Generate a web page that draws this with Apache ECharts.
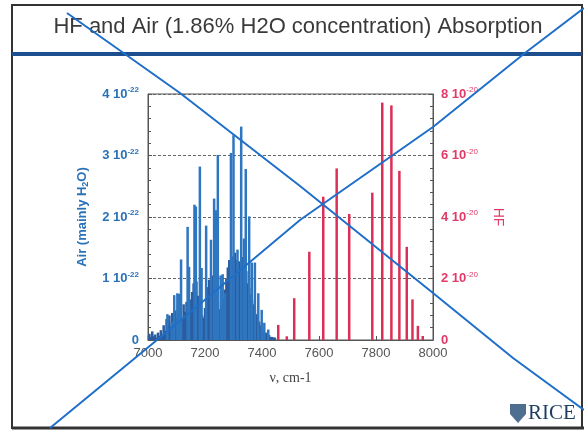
<!DOCTYPE html>
<html>
<head>
<meta charset="utf-8">
<script src="https://cdn.jsdelivr.net/npm/echarts@6/dist/echarts.min.js"></script>
<style>
  html, body { margin: 0; padding: 0; background: #fff; }
  #chart { width: 584px; height: 431px; }
</style>
</head>
<body>
<div id="chart"></div>
<script>
// --- 数据---
const titleText = 'HF and Air (1.86% H2O concentration) Absorption';
const xTicks = [7000, 7200, 7400, 7600, 7800, 8000];
const airExp = '-22';
const hfExp = '-20';

// 空气（主要为水汽）强吸收线，单位 1e-22
const airStrongWn = [7068, 7083, 7092, 7103, 7108, 7116, 7139, 7144, 7163, 7168, 7182, 7188, 7204, 7221, 7232, 7239, 7245, 7255, 7262, 7270, 7291, 7300, 7314, 7327, 7337, 7343, 7355, 7364, 7375, 7387, 7399, 7408, 7422];
const airStrongAbs = [0.42, 0.30, 0.73, 0.76, 0.75, 1.31, 1.84, 1.19, 2.20, 2.17, 2.82, 1.17, 1.86, 1.63, 2.30, 2.11, 3.01, 1.05, 1.07, 0.76, 3.04, 3.33, 1.47, 3.47, 1.65, 2.78, 2.01, 1.26, 1.26, 0.76, 0.49, 0.28, 0.17];

// 空气弱吸收线（密集背景）
const airWeakWn = [7000, 7005, 7010, 7015, 7020, 7025, 7030, 7035, 7040, 7045,
  7050, 7055, 7060, 7065, 7070, 7075, 7080, 7085, 7090, 7095,
  7100, 7105, 7110, 7115, 7120, 7125, 7130, 7135, 7140, 7145,
  7150, 7155, 7160, 7165, 7170, 7175, 7180, 7185, 7190, 7195,
  7200, 7205, 7210, 7215, 7220, 7225, 7230, 7235, 7240, 7245,
  7250, 7255, 7260, 7265, 7270, 7275, 7280, 7285, 7290, 7295,
  7300, 7305, 7310, 7315, 7320, 7325, 7330, 7335, 7340, 7345,
  7350, 7355, 7360, 7365, 7370, 7375, 7380, 7385, 7390, 7395,
  7400, 7405, 7410, 7415, 7420, 7425, 7430, 7435, 7440, 7445];
const airWeakAbs = [0.06, 0.10, 0.05, 0.14, 0.06, 0.09, 0.04, 0.12, 0.07, 0.16,
  0.10, 0.24, 0.15, 0.34, 0.26, 0.40, 0.22, 0.44, 0.32, 0.48,
  0.36, 0.55, 0.42, 0.50, 0.33, 0.58, 0.46, 0.62, 0.50, 0.56,
  0.66, 0.78, 0.92, 0.85, 0.95, 0.72, 0.58, 0.48, 0.40, 0.36,
  0.52, 0.70, 0.86, 0.98, 0.90, 1.05, 0.92, 0.80, 0.74, 0.62,
  0.50, 0.42, 0.55, 0.68, 0.82, 1.00, 1.18, 1.30, 1.22, 1.36,
  1.25, 1.42, 1.30, 1.16, 1.28, 1.20, 1.35, 1.05, 0.98, 1.12,
  0.92, 0.85, 0.74, 0.66, 0.58, 0.50, 0.42, 0.36, 0.30, 0.24,
  0.18, 0.14, 0.10, 0.12, 0.07, 0.08, 0.05, 0.05, 0.04, 0.04];

// HF 吸收线，单位 1e-20
const hfWn = [7457, 7487, 7513, 7566, 7615, 7662, 7706, 7787, 7822, 7854, 7882, 7908, 7928, 7947, 7964];
const hfAbs = [0.49, 0.12, 1.36, 2.87, 4.66, 5.58, 4.10, 4.79, 7.72, 7.63, 5.50, 3.03, 1.32, 0.46, 0.13];

const BLUE = '#2a72b8', PINK = '#e23a68', GRAY = '#555';

const zip = (a, b) => a.map((v, i) => [v, b[i]]);
const expLabel = exp => v => v === 0 ? '{b|0}' : '{b|' + v + ' 10}{s|' + exp + '}';

const chart = echarts.init(document.getElementById('chart'));

// 幻灯片边框与划线
const slide = [
  { type: 'rect', shape: { x: 12, y: 5, width: 570, height: 423 }, style: { fill: 'none', stroke: '#333', lineWidth: 2 }, z: 10 },
  { type: 'line', shape: { x1: 12, y1: 54, x2: 582, y2: 54 }, style: { stroke: '#1d4f8f', lineWidth: 4 }, z: 10 },
  { type: 'line', shape: { x1: 12, y1: 428, x2: 584, y2: 428 }, style: { stroke: '#333', lineWidth: 3 }, z: 10 },
  { type: 'text', x: 298, y: 27, style: { text: titleText, font: '22px "Liberation Sans", Arial, sans-serif', fill: '#3a3a3a', textAlign: 'center', textVerticalAlign: 'middle' }, z: 11 },
  { type: 'polyline', shape: { points: [[67, 13], [180, 93], [300, 186], [433, 293], [513, 358], [584, 410]] }, style: { stroke: '#1f6fc9', lineWidth: 2, fill: 'none' }, z: 20 },
  { type: 'polyline', shape: { points: [[50, 428], [157, 340], [300, 220], [433, 127], [525, 53], [584, 8]] }, style: { stroke: '#1f6fc9', lineWidth: 2, fill: 'none' }, z: 20 },
  { type: 'polygon', shape: { points: [[510, 404], [526, 404], [526, 414], [518, 423], [510, 414]] }, style: { fill: '#4f6f90' }, z: 11 },
  { type: 'text', x: 528, y: 413, style: { text: 'RICE', font: '21px "Liberation Serif", serif', fill: '#1e3d5f', textVerticalAlign: 'middle' }, z: 11 },
];

chart.setOption({
  animation: false,
  graphic: slide,
  grid: { left: 148, right: 151, top: 94, bottom: 91, show: true, borderColor: GRAY, borderWidth: 1, backgroundColor: 'transparent' },
  xAxis: {
    type: 'value', min: 7000, max: 8000, interval: 200,
    name: 'ν, cm-1', nameLocation: 'middle', nameGap: 31,
    nameTextStyle: { color: '#444', fontSize: 14, fontFamily: '"Liberation Serif", serif' },
    axisLine: { show: true, lineStyle: { color: GRAY } },
    axisTick: { show: true, inside: true, length: 4, lineStyle: { color: GRAY } },
    axisLabel: { color: GRAY, fontSize: 13, margin: 7, fontFamily: 'Arial, "Liberation Sans", sans-serif', formatter: v => String(v), customValues: xTicks },
    splitLine: { show: false },
  },
  yAxis: [
    {
      type: 'value', min: 0, max: 4, interval: 1, position: 'left',
      name: 'Air (mainly H{sub|2}O)', nameLocation: 'middle', nameGap: 58, nameRotate: 90,
      nameTextStyle: { color: BLUE, fontSize: 13, fontWeight: 'bold', fontFamily: 'Arial, sans-serif',
        rich: { sub: { fontSize: 9, fontWeight: 'bold', color: BLUE, verticalAlign: 'bottom', padding: [6, 0, 0, 0] } } },
      axisLine: { show: true, lineStyle: { color: GRAY } },
      axisTick: { show: true, inside: true, length: 4, lineStyle: { color: GRAY } },
      minorTick: { show: true, splitNumber: 5, length: 3, lineStyle: { color: GRAY } },
      axisLabel: {
        formatter: expLabel(airExp), margin: 9,
        rich: {
          b: { color: BLUE, fontSize: 13, fontWeight: 'bold', fontFamily: 'Arial, sans-serif', lineHeight: 16 },
          s: { color: BLUE, fontSize: 8, fontWeight: 'bold', fontFamily: 'Arial, sans-serif', verticalAlign: 'top', lineHeight: 8 },
        },
      },
      splitLine: { show: true, lineStyle: { color: '#666', type: [3, 2], width: 1 } },
    },
    {
      type: 'value', min: 0, max: 8, interval: 2, position: 'right',
      name: 'HF', nameLocation: 'middle', nameGap: 58, nameRotate: -90,
      nameTextStyle: { color: PINK, fontSize: 14, fontFamily: 'Arial, sans-serif' },
      axisLine: { show: true, lineStyle: { color: GRAY } },
      axisTick: { show: true, inside: true, length: 4, lineStyle: { color: GRAY } },
      minorTick: { show: true, splitNumber: 5, length: 3, lineStyle: { color: GRAY } },
      axisLabel: {
        formatter: expLabel(hfExp), margin: 8,
        rich: {
          b: { color: PINK, fontSize: 13, fontWeight: 'bold', fontFamily: 'Arial, sans-serif', lineHeight: 16 },
          s: { color: PINK, fontSize: 8, fontFamily: 'Arial, sans-serif', verticalAlign: 'top', lineHeight: 8 },
        },
      },
      splitLine: { show: false },
    },
  ],
  series: [
    { name: 'airWeak', type: 'bar', yAxisIndex: 0, data: zip(airWeakWn, airWeakAbs), barWidth: 2.5, barGap: '-100%', itemStyle: { color: '#2b5c9e' } },
    { name: 'airStrong', type: 'bar', yAxisIndex: 0, data: zip(airStrongWn, airStrongAbs), barWidth: 2.5, barGap: '-100%', itemStyle: { color: '#2f76c0' } },
    { name: 'HF', type: 'bar', yAxisIndex: 1, data: zip(hfWn, hfAbs), barWidth: 2.5, barGap: '-100%', itemStyle: { color: '#dc2f57' } },
  ],
});
</script>
</body>
</html>
